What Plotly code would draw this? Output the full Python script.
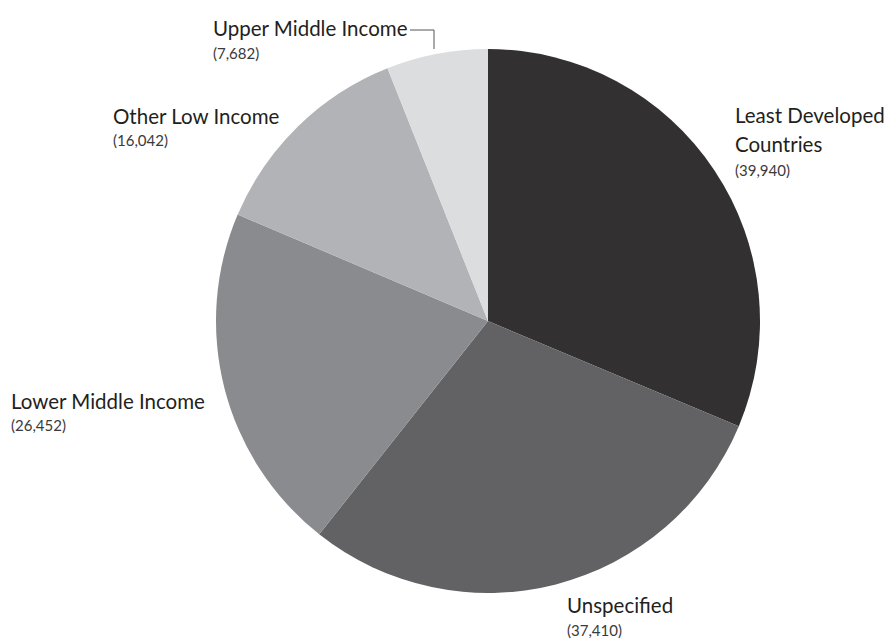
import plotly.graph_objects as go

categories = ["Least Developed Countries", "Unspecified", "Lower Middle Income",
              "Other Low Income", "Upper Middle Income"]
values = [39940, 37410, 26452, 16042, 7682]
colors = ["#323031", "#626264", "#8a8b8e", "#b2b3b6", "#dcdddf"]

W, H = 886, 640
cx, cy, r = 488, 321, 272

fig = go.Figure(go.Pie(
    labels=categories, values=values, sort=False, direction="clockwise",
    rotation=0, textinfo="none", hoverinfo="label+value",
    marker=dict(colors=colors, line=dict(width=0)),
    domain=dict(x=[(cx - r) / W, (cx + r) / W], y=[1 - (cy + r) / H, 1 - (cy - r) / H]),
    showlegend=False,
))

# label layout: (name lines, x_px, name_y_px list, value_y_px)
label_pos = {
    "Least Developed Countries": (["Least Developed", "Countries"], 733, [115, 144], 170),
    "Unspecified": (["Unspecified"], 565, [605], 630),
    "Lower Middle Income": (["Lower Middle Income"], 9, [401], 425),
    "Other Low Income": (["Other Low Income"], 111, [116], 140),
    "Upper Middle Income": (["Upper Middle Income"], 211, [28], 53),
}

font_name = "Lato"
anns = []
for cat, val in zip(categories, values):
    lines, x, ys, vy = label_pos[cat]
    for line, y in zip(lines, ys):
        anns.append(dict(text=line, x=x / W, y=1 - y / H, xref="paper", yref="paper",
                         xanchor="left", yanchor="middle", showarrow=False,
                         font=dict(family=font_name, size=20.5, color="#231f20")))
    anns.append(dict(text=f"({val:,})", x=x / W, y=1 - vy / H, xref="paper", yref="paper",
                     xanchor="left", yanchor="middle", showarrow=False,
                     font=dict(family=font_name, size=15, color="#3a3a3a")))

fig.update_layout(
    width=W, height=H, margin=dict(l=0, r=0, t=0, b=0),
    paper_bgcolor="white", plot_bgcolor="white",
    annotations=anns,
    shapes=[dict(type="path", xref="paper", yref="paper",
                 path=f"M {410 / W} {1 - 30 / H} L {434 / W} {1 - 30 / H} L {434 / W} {1 - 49 / H}",
                 line=dict(color="#555555", width=1))],
)

fig.write_html("out.html")
